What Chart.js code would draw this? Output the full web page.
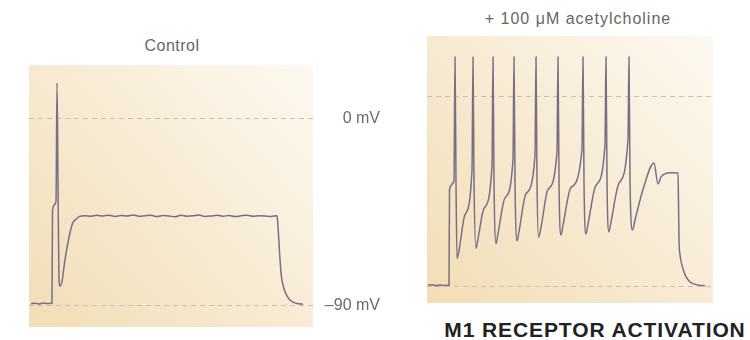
<!DOCTYPE html>
<html>
<head>
<meta charset="utf-8">
<script src="https://cdn.jsdelivr.net/npm/chart.js@4/dist/chart.umd.min.js"></script>
<style>
    html, body { margin: 0; padding: 0; background: #fff; }
    body { width: 750px; height: 340px; position: relative; overflow: hidden;
           font-family: "Liberation Sans", Arial, sans-serif; }
    canvas { position: absolute; }
    .lbl { position: absolute; white-space: nowrap; text-align: center; }
    #t-control { left: 122px; top: 36px; width: 100px; height: 20px; line-height: 20px;
                 font-size: 16px; color: #666; letter-spacing: 0.5px; }
    #t-ach { left: 478px; top: 9px; width: 200px; height: 20px; line-height: 20px;
             font-size: 16px; color: #666; letter-spacing: 1px; }
    #t-m1 { left: 430px; top: 319px; width: 330px; height: 22px; line-height: 22px;
            font-size: 21px; font-weight: bold; color: #222; letter-spacing: 0.9px; }
</style>
</head>
<body>
<div class="lbl" id="t-control">Control</div>
<div class="lbl" id="t-ach">+ 100 μM acetylcholine</div>
<div class="lbl" id="t-m1">M1 RECEPTOR ACTIVATION</div>

<canvas id="g-control" width="351" height="262" style="left:29px; top:65px;"></canvas>
<canvas id="g-ach" width="286" height="267" style="left:427px; top:36px;"></canvas>

<script>
// ---- datos (tiempo en ms, potencial en mV) ----
const refTicks  = [-90, 0];
const refLabels = ["–90 mV", "0 mV"];

// Control: un único potencial de acción y meseta despolarizada
const controlTime = [
    2, 6, 10, 14, 18, 22, 23, 23.5, 27, 28, 29, 30, 31, 33, 36, 41, 44,
    47, 50, 56, 62, 68, 74, 80, 86, 92, 98, 104, 110, 116, 122, 128, 134, 140,
    146, 152, 158, 164, 170, 176, 182, 188, 194, 200, 206, 212, 218, 224, 230,
    236, 242, 248,
    249, 250, 251, 252, 253, 255, 258, 261, 264, 268, 274
];
const controlMv = [
    -89.3, -89.0, -89.4, -88.9, -89.2, -89.1, -89.0, -44, -40, 17.4, -30, -78, -80.8, -78.5, -68, -55, -50,
    -48.5, -47.2, -46.8, -47.0, -46.6, -46.9, -46.5, -47.1, -46.7, -46.9, -46.4, -47.0, -46.8, -46.6, -47.2, -46.7, -46.9,
    -47.3, -46.5, -47.0, -46.8, -46.4, -47.1, -46.9, -46.6, -47.0, -46.7, -47.2, -46.8, -46.5, -47.0, -46.8,
    -46.9, -47.1, -46.8,
    -52, -60, -68, -74, -78, -82, -85.5, -87.5, -88.5, -89.2, -89.5
];

// + acetilcolina: tren de 9 potenciales de acción
const achTime = [
    1, 5, 9, 13, 17, 21, 22, 22.5, 27,
    28, 29, 30, 32, 38, 45,
    46, 47, 49, 51, 57, 65,
    66, 67, 69, 71, 78, 86,
    87, 88, 90, 92, 99, 108,
    109, 110, 111.5, 114, 121, 130,
    131, 132, 134, 136, 144, 155,
    156, 157, 159, 161, 169, 178,
    179, 180, 182, 184, 192, 201,
    202, 203, 205.5, 208, 216, 227, 231, 234, 240, 245, 251,
    251.5, 252, 253, 255, 258, 262, 266, 272, 278
];
const achMv = [
    -89.6, -89.3, -89.8, -89.4, -89.7, -89.5, -89.6, -44, -40,
    19, -40, -76.8, -73, -56, -35,
    19, -40, -72, -67.5, -53, -33,
    19, -40, -69.7, -65, -48, -30,
    19, -40, -68.4, -64, -46, -28,
    19, -40, -66.8, -62, -44, -26,
    19, -40, -65.7, -61, -43, -25,
    19, -40, -65.2, -60.5, -42, -23,
    19, -40, -64.1, -59.5, -41, -20,
    19, -40, -63.3, -58.5, -44, -31.4, -41.4, -38, -36.2, -36, -36.2,
    -50, -68, -75, -80, -84.5, -87.5, -88.8, -89.5, -89.8
];

const TRAZO = "#7b6d86";
const GUIA  = "#cbbfae";

// fondo beige en degradado dentro del área del gráfico
const fondoPanel = {
    id: "fondoPanel",
    beforeDraw(chart) {
        const { ctx, chartArea: a } = chart;
        const g = ctx.createLinearGradient(a.left, a.bottom, a.right, a.top);
        g.addColorStop(0, "#f2deb6");
        g.addColorStop(0.55, "#f8ecd6");
        g.addColorStop(1, "#fdf9f1");
        ctx.save();
        ctx.fillStyle = g;
        ctx.fillRect(a.left, a.top, a.right - a.left, a.bottom - a.top);
        ctx.restore();
    },
};

function crearTraza(id, tiempos, valores, xMax, yMin, yMax, conEtiquetas) {
    return new Chart(document.getElementById(id), {
        type: "line",
        data: {
            datasets: [{
                data: tiempos.map((t, i) => ({ x: t, y: valores[i] })),
                borderColor: TRAZO,
                borderWidth: 1.5,
                pointRadius: 0,
                cubicInterpolationMode: "monotone",
                fill: false,
            }],
        },
        options: {
            responsive: false,
            animation: false,
            devicePixelRatio: 1,
            layout: { padding: 0 },
            plugins: { legend: { display: false }, tooltip: { enabled: false } },
            scales: {
                x: { type: "linear", min: 0, max: xMax, display: false },
                y: {
                    type: "linear",
                    position: "right",
                    min: yMin,
                    max: yMax,
                    afterBuildTicks: (ax) => { ax.ticks = refTicks.map((v) => ({ value: v })); },
                    afterFit: (ax) => {
                        ax.width = conEtiquetas ? 67 : 0;
                        ax.paddingTop = 0;      // sin margen extra por las etiquetas
                        ax.paddingBottom = 0;
                    },
                    grid: { color: GUIA, lineWidth: 1, drawTicks: false },
                    border: { display: false, dash: [5, 4] },
                    ticks: {
                        display: conEtiquetas,
                        crossAlign: "far",
                        padding: 12,
                        color: "#6b6b6b",
                        font: { family: "Liberation Sans", size: 16 },
                        callback: (v) => refLabels[refTicks.indexOf(v)],
                    },
                },
            },
        },
        plugins: [fondoPanel],
    });
}

crearTraza("g-control", controlTime, controlMv, 284, -100.5, 26, true);
crearTraza("g-ach", achTime, achMv, 286, -98, 29, false);
</script>
</body>
</html>
